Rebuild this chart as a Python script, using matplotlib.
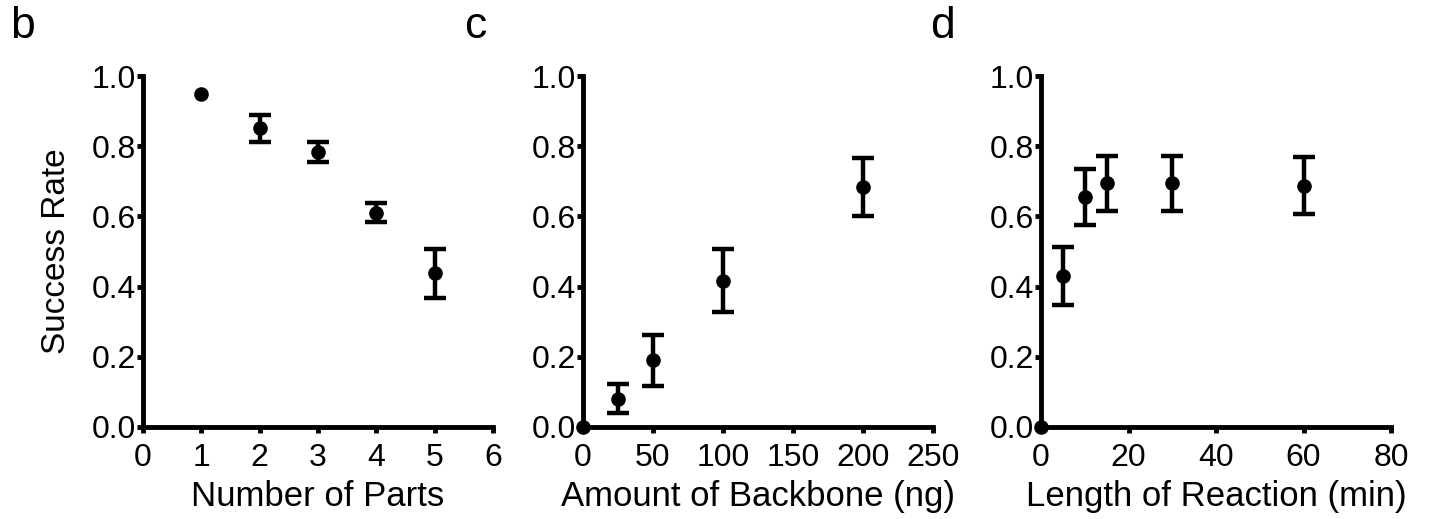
import numpy as np
import matplotlib.pyplot as plt

plt.rcParams['font.family'] = ['Liberation Sans', 'DejaVu Sans']

# panel b
parts = [1, 2, 3, 4, 5]
parts_rate = [0.948, 0.851, 0.784, 0.611, 0.438]
parts_err = [0.0, 0.039, 0.029, 0.026, 0.07]

# panel c
backbone = [0, 25, 50, 100, 200]
backbone_rate = [0.0, 0.081, 0.19, 0.417, 0.684]
backbone_err = [0.0, 0.042, 0.072, 0.089, 0.082]

# panel d
minutes = [0, 5, 10, 15, 30, 60]
minutes_rate = [0.0, 0.43, 0.656, 0.694, 0.694, 0.687]
minutes_err = [0.0, 0.082, 0.08, 0.078, 0.078, 0.081]

panels = [
    ("b", parts, parts_rate, parts_err, "Number of Parts", (0, 6), [0, 1, 2, 3, 4, 5, 6]),
    ("c", backbone, backbone_rate, backbone_err, "Amount of Backbone (ng)", (0, 250), [0, 50, 100, 150, 200, 250]),
    ("d", minutes, minutes_rate, minutes_err, "Length of Reaction (min)", (0, 80), [0, 20, 40, 60, 80]),
]

W, H = 1429, 519
fig = plt.figure(figsize=(W / 100, H / 100), dpi=100)

lefts = [143, 583, 1041]
letter_x = [10, 464, 930]

for i, (letter, x, y, err, xlabel, xlim, xticks) in enumerate(panels):
    ax = fig.add_axes([lefts[i] / W, (H - 427) / H, 350 / W, 351 / H])
    yerr = np.array(err)
    ax.errorbar(x, y, yerr=np.where(yerr > 0, yerr, np.nan), fmt='o', color='black',
                markersize=9.5, elinewidth=3.2, capsize=8, capthick=3.2, clip_on=False, zorder=3)
    ax.set_xlim(*xlim)
    ax.set_ylim(0, 1.0)
    ax.set_xticks(xticks)
    ax.set_yticks([0, 0.2, 0.4, 0.6, 0.8, 1.0])
    ax.set_yticklabels(["0.0", "0.2", "0.4", "0.6", "0.8", "1.0"])
    for s in ['top', 'right']:
        ax.spines[s].set_visible(False)
    for s in ['left', 'bottom']:
        ax.spines[s].set_linewidth(3.5)
    ax.tick_params(direction='out', length=4.5, width=3.5, labelsize=23)
    ax.tick_params(axis='x', pad=7)
    ax.tick_params(axis='y', pad=0.5)
    ax.set_xlabel(xlabel, fontsize=25, labelpad=5)
    if i == 0:
        ax.set_ylabel("Success Rate", fontsize=24, labelpad=14)
    fig.text(letter_x[i] / W, 1 - 6 / H, letter, fontsize=32, va='top', ha='left')

fig.savefig("out.png", dpi=100)
